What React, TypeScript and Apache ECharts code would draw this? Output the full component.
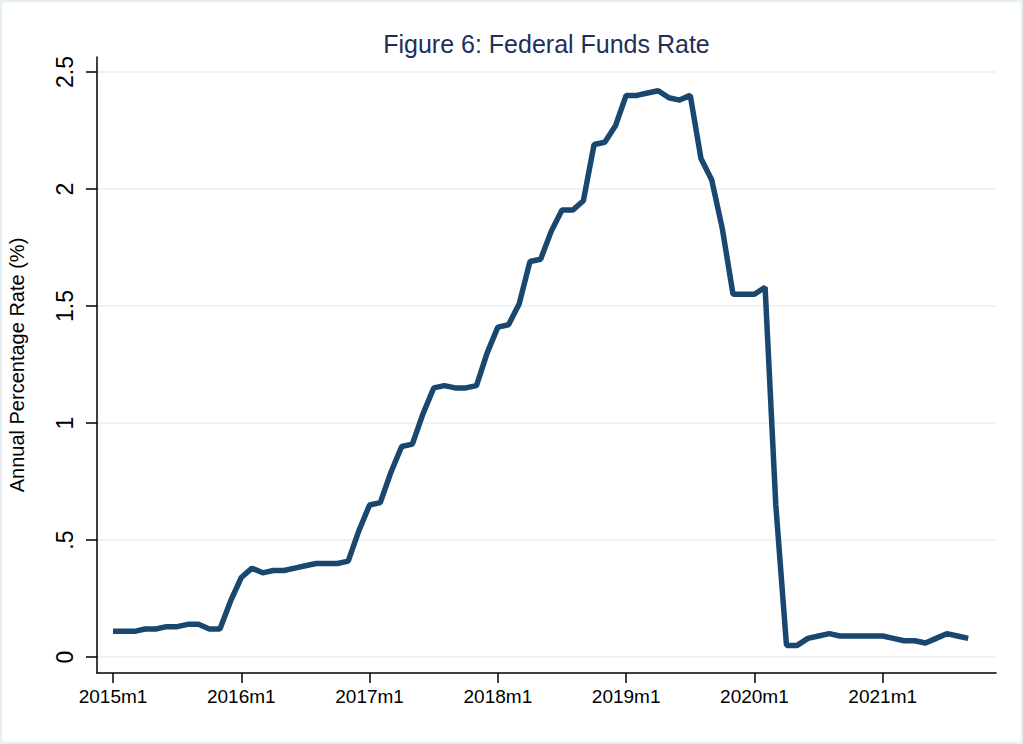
import React, { useEffect, useRef } from "react";
import * as echarts from "echarts";

// Monthly effective federal funds rate, 2015m1 .. 2021m9 (percent)
const rate2015 = [0.11, 0.11, 0.11, 0.12, 0.12, 0.13, 0.13, 0.14, 0.14, 0.12, 0.12, 0.24];
const rate2016 = [0.34, 0.38, 0.36, 0.37, 0.37, 0.38, 0.39, 0.4, 0.4, 0.4, 0.41, 0.54];
const rate2017 = [0.65, 0.66, 0.79, 0.9, 0.91, 1.04, 1.15, 1.16, 1.15, 1.15, 1.16, 1.3];
const rate2018 = [1.41, 1.42, 1.51, 1.69, 1.7, 1.82, 1.91, 1.91, 1.95, 2.19, 2.2, 2.27];
const rate2019 = [2.4, 2.4, 2.41, 2.42, 2.39, 2.38, 2.4, 2.13, 2.04, 1.83, 1.55, 1.55];
const rate2020 = [1.55, 1.58, 0.65, 0.05, 0.05, 0.08, 0.09, 0.1, 0.09, 0.09, 0.09, 0.09];
const rate2021 = [0.09, 0.08, 0.07, 0.07, 0.06, 0.08, 0.1, 0.09, 0.08];

const rates = [...rate2015, ...rate2016, ...rate2017, ...rate2018, ...rate2019, ...rate2020, ...rate2021];

// x tick labels (month index from 2015m1 -> label)
const xTickValues = [0, 12, 24, 36, 48, 60, 72];
const xTickLabels = ["2015m1", "2016m1", "2017m1", "2018m1", "2019m1", "2020m1", "2021m1"];

const yTickValues = [0, 0.5, 1, 1.5, 2, 2.5];
const yTickLabels = ["0", ".5", "1", "1.5", "2", "2.5"];

const titleText = "Figure 6: Federal Funds Rate";
const yTitle = "Annual Percentage Rate (%)";

const FONT = "Liberation Sans";

export default function App() {
  const ref = useRef<HTMLDivElement>(null);

  useEffect(() => {
    if (!ref.current) return;
    const chart = echarts.init(ref.current, undefined, { renderer: "svg" });
    const data = rates.map((v, i) => [i, v]);
    chart.setOption({
      animation: false,
      backgroundColor: "#ffffff",
      title: {
        text: titleText,
        left: 541.5,
        top: 26,
        textAlign: "center",
        textStyle: {
          fontFamily: FONT,
          fontSize: 25,
          fontWeight: "normal",
          color: "#1e2f5c",
        },
      },
      graphic: [
        {
          type: "rect",
          shape: { x: 1, y: 1, width: 1021, height: 742 },
          style: { fill: "none", stroke: "#e6eff1", lineWidth: 2.5 },
          silent: true,
        },
      ],
      grid: {
        left: 97,
        right: 27,
        top: 57,
        bottom: 71,
        containLabel: false,
        outerBoundsMode: "none",
      },
      xAxis: {
        type: "value",
        min: -1.5,
        max: 82.6,
        axisLine: { show: true, onZero: false, lineStyle: { color: "#000000", width: 1.5 } },
        axisTick: {
          show: true,
          length: 10,
          customValues: xTickValues,
          lineStyle: { color: "#000000", width: 1.5 },
        },
        axisLabel: {
          customValues: xTickValues,
          margin: 14,
          fontFamily: FONT,
          fontSize: 19,
          color: "#000000",
          formatter: (v: number) => {
            const k = xTickValues.indexOf(Math.round(v));
            return k >= 0 ? xTickLabels[k] : "";
          },
        },
        splitLine: { show: false },
      },
      yAxis: {
        type: "value",
        min: -0.068,
        max: 2.564,
        name: yTitle,
        nameLocation: "middle",
        nameRotate: 90,
        nameGap: 70,
        nameTextStyle: { fontFamily: FONT, fontSize: 20, color: "#000000" },
        axisLine: { show: true, onZero: false, lineStyle: { color: "#000000", width: 1.5 } },
        axisTick: {
          show: true,
          length: 11,
          customValues: yTickValues,
          lineStyle: { color: "#000000", width: 1.5 },
        },
        axisLabel: {
          customValues: yTickValues,
          rotate: 90,
          margin: 21,
          fontFamily: FONT,
          fontSize: 23,
          color: "#000000",
          formatter: (v: number) => {
            const k = yTickValues.findIndex((t) => Math.abs(t - v) < 1e-6);
            return k >= 0 ? yTickLabels[k] : "";
          },
        },
        splitLine: {
          show: true,
          lineStyle: { color: "#e8f1f3", width: 1.5 },
        },
      },
      series: [
        {
          type: "line",
          data,
          showSymbol: false,
          symbol: "none",
          lineStyle: { color: "#1a476f", width: 5.5, join: "bevel" },
          z: 3,
        },
      ],
    });
    return () => chart.dispose();
  }, []);

  return (
    <div
      ref={ref}
      style={{ position: "absolute", left: 0, top: 0, width: 1023, height: 744 }}
    />
  );
}
